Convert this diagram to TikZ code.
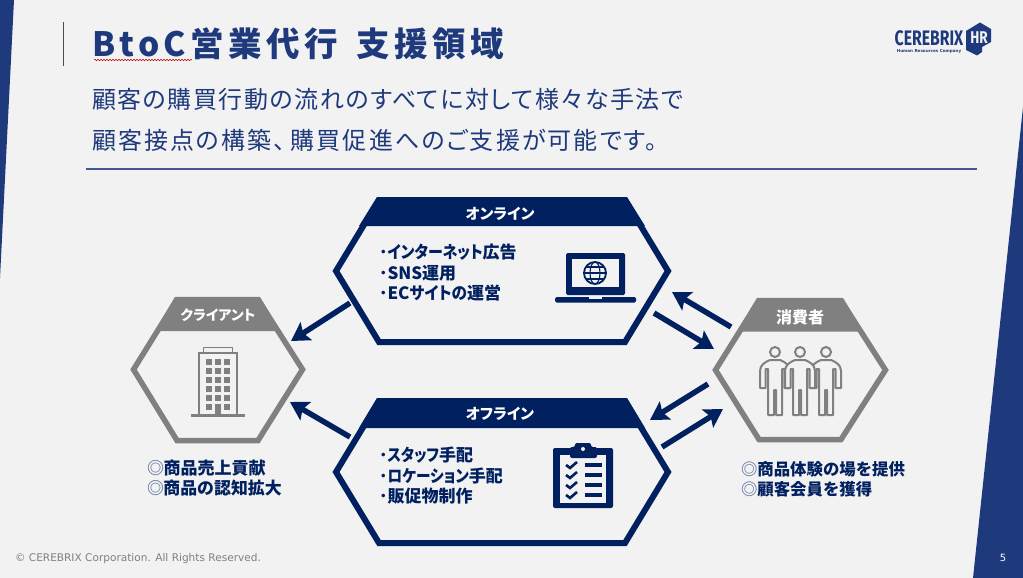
\documentclass[tikz,border=0pt]{standalone}
\usepackage{fontspec}
\setmainfont{Noto Sans CJK JP}
\newfontfamily\cjk{Noto Sans CJK JP}
\newfontfamily\cjkp[RawFeature={+palt}]{Noto Sans CJK JP}
\newfontfamily\dejav{DejaVu Sans}
\newfontfamily\fira{Fira Sans}
\usetikzlibrary{arrows.meta,decorations.pathmorphing}
\definecolor{bgc}{HTML}{F2F2F2}
\definecolor{bluec}{HTML}{1F3A7C}
\definecolor{navyc}{HTML}{002060}
\definecolor{grayc}{HTML}{808080}
\newcommand{\fsz}[1]{\fontsize{#1}{#1}\selectfont}
\newcommand{\kn}[1]{\scalebox{.88}[1]{#1}}
\tikzset{
  x=1pt,y=-1pt,
  txt/.style={inner sep=0pt,outer sep=0pt,anchor=west},
  titletxt/.style={txt,text=bluec,font=\cjk\bfseries\fsz{33.5}\addfontfeature{LetterSpace=13}},
  subtxt/.style={txt,text=bluec,font=\cjkp\fsz{24}\addfontfeature{LetterSpace=#1}},
  bodytxt/.style={txt,text=navyc,font=\cjkp\bfseries\fsz{17}},
  listtxt/.style={txt,text=navyc,font=\cjk\bfseries\fsz{#1}},
  headtxt/.style={inner sep=0pt,text=white,font=\cjkp\bfseries\fsz{#1}},
  hexnavy/.style={draw=navyc,line width=6pt,miter limit=10},
  hexgray/.style={draw=grayc,line width=5.5pt,miter limit=10},
  flow/.style={draw=navyc,line width=5.5pt,-{Stealth[length=18pt,width=21pt,inset=3.5pt]}},
  person/.pic={
    \draw[grayc,line width=2pt] (0,-13) circle[radius=5];
    \draw[grayc,fill=bgc,line width=2pt,line join=round]
      (-7,50) -- (-7,4) -- (-9.5,4) -- (-9.5,23) -- (-15,23) -- (-15,6)
      .. controls (-15,0) and (-10,-3) .. (-5,-5) -- (5,-5)
      .. controls (10,-3) and (15,0) .. (15,6) -- (15,23) -- (9.5,23) -- (9.5,4) -- (7,4)
      -- (7,50) -- (1,50) -- (1,25) -- (-1,25) -- (-1,50) -- cycle;
  }
}
\begin{document}
\begin{tikzpicture}
\useasboundingbox (0,0) rectangle (1023,578);
\fill[bgc] (0,0) rectangle (1023,578);
% side bars
\fill[bluec] (0,0) -- (14,0) -- (0,278) -- cycle;
\fill[bluec] (1023,107) -- (1023,578) -- (973,578) -- cycle;
% header
\draw[color=black!70,line width=1pt] (63.5,22) -- (63.5,66);
\node[titletxt] (title) at (92.5,44) {BtoC営業代行\hspace{7pt} 支援領域};
\draw[red!75!black,line width=.5pt,decorate,decoration={snake,amplitude=.7pt,segment length=3pt}] (94,60) -- (192,60);
\node[subtxt=6.4] (sub1) at (92,99) {顧客の購買行動の流れのすべてに対して様々な手法で};
\node[subtxt=8.7] (sub2) at (92,140) {顧客接点の構築、\hspace{5pt}購買促進へのご支援が可能です。};
\draw[color=bluec!85,line width=1.1pt] (86,169) -- (977,169);
% logo
\node[inner sep=0pt,text=bluec,font=\fira\bfseries\fsz{21}] (logo) at (929,38) {\scalebox{.75}[1]{CEREBRIX}};
\node[inner sep=0pt,text=bluec,font=\dejav\bfseries\fsz{4.1}] (logosub) at (929,51) {Human Resources Company};
\fill[bluec] (980,22.5) -- (991,29) -- (991,42) -- (982,47) -- (982,52) -- (977,55.5) -- (966,50) -- (966,31) -- cycle;
\node[inner sep=0pt,text=bgc,font=\fira\bfseries\fsz{17}] (logohr) at (979,38) {\scalebox{.8}[1]{HR}};
% online hexagon
\fill[navyc] (377,197) -- (627,197) -- (645,226) -- (359,226) -- cycle;
\draw[hexnavy] (336,271) -- (379,200) -- (625,200) -- (668,271) -- (625,342) -- (379,342) -- cycle;
\node[headtxt=15] (onl) at (500,214) {オンライン};
\node[bodytxt] (onl1) at (379,252) {･\kn{インターネット}広告};
\node[bodytxt] (onl2) at (379,273) {･SNS運用};
\node[bodytxt] (onl3) at (379,293) {･EC\scalebox{.92}[1]{サイトの}運営};
% laptop
\fill[navyc,rounded corners=1.5pt] (566,253) rectangle (625,295);
\fill[bgc] (572,259) rectangle (619,287);
\fill[navyc,rounded corners=1.5pt] (555,297) rectangle (636,302.5);
\fill[bgc] (589,297) rectangle (602,298.5);
\draw[navyc,line width=1.8pt] (595,273) circle[radius=11];
\draw[navyc,line width=1.1pt] (595,273) ellipse[x radius=5,y radius=11];
\draw[navyc,line width=1.1pt] (584,273) -- (606,273) (586,267) -- (604,267) (586,279) -- (604,279);
% offline hexagon
\fill[navyc] (377,398) -- (627,398) -- (645,428) -- (359,428) -- cycle;
\draw[hexnavy] (336,472) -- (379,401) -- (625,401) -- (668,472) -- (625,543) -- (379,543) -- cycle;
\node[headtxt=15] (off) at (500,414) {オフライン};
\node[bodytxt] (off1) at (379,455) {･\scalebox{.85}[1]{スタッフ}手配};
\node[bodytxt] (off2) at (379,476) {･\scalebox{.86}[1]{ロケーション}手配};
\node[bodytxt] (off3) at (379,496) {･販促物制作};
% clipboard
\fill[navyc,rounded corners=2pt] (553,448) rectangle (613,508);
\fill[bgc] (560,455) rectangle (606,503);
\fill[navyc,rounded corners=2pt] (570,447) -- (575,447) -- (575,443) -- (591,443) -- (591,447) -- (597,447) -- (597,458) -- (570,458) -- cycle;
\fill[bgc] (583,449) circle[radius=2];
\foreach \yy in {465,475,485,495}{
  \draw[navyc,line width=2.6pt] (566,\yy) -- (570,\yy+3) -- (577,\yy-3);
  \fill[navyc] (585,\yy-1.7) rectangle (602,\yy+1.7);
}
% client hexagon
\fill[grayc] (175,297) -- (260,297) -- (280,331) -- (155,331) -- cycle;
\draw[hexgray] (133.5,369.5) -- (177,299.5) -- (258,299.5) -- (302.5,369.5) -- (258,440.5) -- (177,440.5) -- cycle;
\node[headtxt=14] (cli) at (218,315) {クライアント};
\draw[grayc,line width=2pt] (199,353) rectangle (237,415);
\draw[grayc,line width=1.7pt] (203.5,353) -- (203.5,347.5) -- (232.5,347.5) -- (232.5,353);
\fill[grayc] (191,414) rectangle (245,417);
\foreach \xx in {209,218,227}{\foreach \yy in {362,371,380,389,398}{\fill[grayc] (\xx-2.6,\yy-3) rectangle (\xx+2.6,\yy+3);}}
\fill[grayc] (206.4,404) rectangle (211.6,410);
\fill[grayc] (224.4,404) rectangle (229.6,410);
\fill[grayc] (215.4,404) rectangle (220.6,415);
\node[listtxt=17] (cl1) at (147,468) {\textcolor{bluec!70}{◎}\hspace{-.5pt}商品売上貢献};
\node[listtxt=16.9] (cl2) at (147,488) {\textcolor{bluec!70}{◎}\hspace{-.5pt}商品の認知拡大};
% consumer hexagon
\fill[grayc] (757,298) -- (843,298) -- (863,331.5) -- (737,331.5) -- cycle;
\draw[hexgray] (715.5,370) -- (759,300.5) -- (841,300.5) -- (885.5,370) -- (841,439.5) -- (759,439.5) -- cycle;
\node[headtxt=16] (con) at (800,317) {消費者};
\pic at (775,365) {person};
\pic at (826,365) {person};
\pic at (800,365) {person};
\node[listtxt=16.4] (co1) at (741,469) {\textcolor{bluec!70}{◎}商品体験の場を提供};
\node[listtxt=16.4] (co2) at (741,489) {\textcolor{bluec!70}{◎}顧客会員を獲得};
% connectors
\coordinate (onlClientS) at (350,303); \coordinate (onlClientT) at (291,341);
\coordinate (offClientS) at (350,437); \coordinate (offClientT) at (290,402);
\coordinate (conOnlS) at (731,327);    \coordinate (conOnlT) at (672,292);
\coordinate (onlConS) at (654,313);    \coordinate (onlConT) at (714,349);
\coordinate (conOffS) at (708,384);    \coordinate (conOffT) at (650,420);
\coordinate (offConS) at (662,447);    \coordinate (offConT) at (723,409);
\draw[flow] (onlClientS) -- (onlClientT);
\draw[flow] (offClientS) -- (offClientT);
\draw[flow] (conOnlS) -- (conOnlT);
\draw[flow] (onlConS) -- (onlConT);
\draw[flow] (conOffS) -- (conOffT);
\draw[flow] (offConS) -- (offConT);
% footer
\node[txt,text=grayc,font=\dejav\fsz{10.55}] (foot) at (15,559) {© CEREBRIX Corporation. All Rights Reserved.};
\node[inner sep=0pt,text=white,font=\dejav\fsz{10}] (pageno) at (1003,558) {5};
\end{tikzpicture}
\end{document}
